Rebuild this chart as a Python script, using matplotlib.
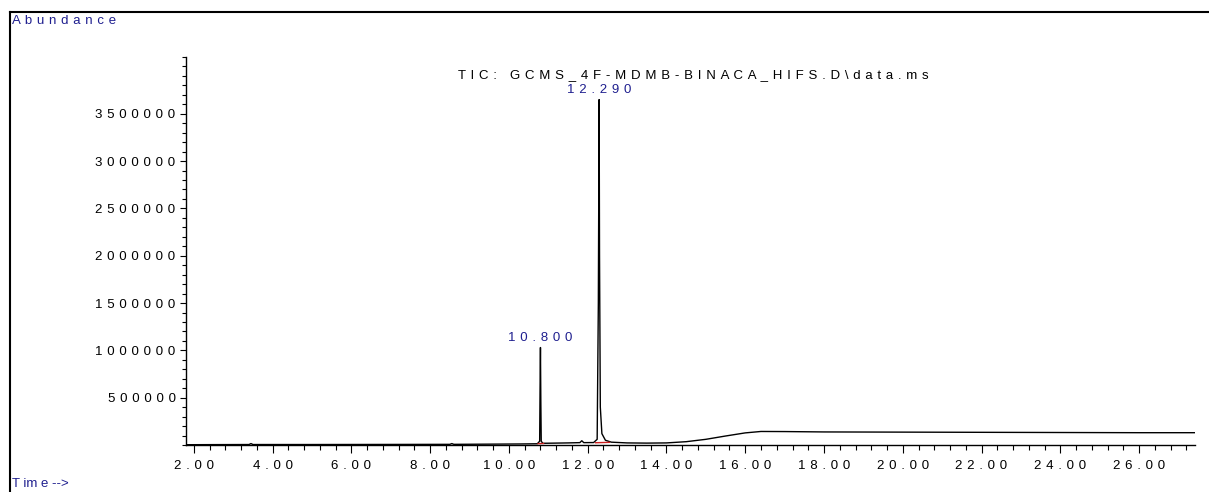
import matplotlib
matplotlib.use('Agg')
import matplotlib.pyplot as plt
from matplotlib.lines import Line2D
from matplotlib.ticker import FixedLocator, MultipleLocator, FuncFormatter

plt.rcParams['font.family'] = ['Liberation Sans', 'DejaVu Sans']

# TIC trace (minutes, abundance)
times = [1.80, 2.50, 3.40, 3.45, 3.50, 5.00, 7.00, 8.50, 8.55, 8.60, 9.50, 10.30,
         10.72, 10.78, 10.79, 10.80, 10.81, 10.82, 10.86, 11.50, 11.80, 11.85, 11.90,
         12.15, 12.24, 12.27, 12.29, 12.30, 12.32, 12.36, 12.45, 12.60, 13.00, 13.50,
         14.00, 14.50, 15.00, 15.50, 16.00, 16.40, 17.00, 18.00, 20.00, 22.00, 24.00,
         26.00, 27.42]
abundance = [3000, 4000, 5000, 15000, 5000, 5000, 6000, 7000, 15000, 7000, 9000, 11000,
             13000, 40000, 600000, 1030000, 450000, 40000, 18000, 22000, 25000, 45000, 25000,
             26000, 60000, 1500000, 3650000, 2000000, 400000, 120000, 50000, 30000, 22000, 20000,
             22000, 35000, 60000, 95000, 128000, 143000, 142000, 138000, 136000, 134000, 132000,
             130000, 130000]

# integration baselines (red)
base1_t = [10.74, 10.88]
base1_y = [14000, 16000]
base2_t = [12.20, 12.55]
base2_y = [24000, 28000]

peak_times = [10.800, 12.290]
peak_heights = [1030000, 3650000]

x_major = [2, 4, 6, 8, 10, 12, 14, 16, 18, 20, 22, 24, 26]
y_major = [500000, 1000000, 1500000, 2000000, 2500000, 3000000, 3500000]

title = r'TIC: GCMS_4F-MDMB-BINACA_HIFS.D\data.ms'
navy = '#1f1f8f'
fs = 9.5


def spaced(s):
    return ' \u200a'.join(s)


fig = plt.figure(figsize=(12.09, 4.92), dpi=100)
ax = fig.add_axes([186 / 1209, 1 - 445 / 492, (1195 - 186) / 1209, (445 - 57) / 492])

ax.plot(times, abundance, color='black', lw=1.0)
ax.plot(base1_t, base1_y, color='#cc2020', lw=1.0)
ax.plot(base2_t, base2_y, color='#cc2020', lw=1.0)

for t, h in zip(peak_times, peak_heights):
    ax.annotate(spaced(f'{t:.3f}'), (t, h), xytext=(0, 2.5), textcoords='offset points',
                ha='center', va='bottom', color=navy, fontsize=fs)

ax.set_xlim(1.80, 27.42)
ax.set_ylim(0, 4100000)

ax.spines['top'].set_visible(False)
ax.spines['right'].set_visible(False)
ax.spines['left'].set_linewidth(1.0)
ax.spines['bottom'].set_linewidth(1.0)

ax.xaxis.set_major_locator(FixedLocator(x_major))
ax.xaxis.set_minor_locator(MultipleLocator(0.4))
ax.xaxis.set_major_formatter(FuncFormatter(lambda v, p: spaced(f'{v:.2f}')))
ax.yaxis.set_major_locator(FixedLocator(y_major))
ax.yaxis.set_minor_locator(MultipleLocator(100000))
ax.yaxis.set_major_formatter(FuncFormatter(lambda v, p: spaced(f'{v:.0f}')))

ax.tick_params(axis='x', which='major', direction='out', length=6, width=0.8, pad=4.5, labelsize=fs)
ax.tick_params(axis='x', which='minor', direction='out', length=3.5, width=0.8)
ax.tick_params(axis='y', which='major', direction='out', length=4.5, width=0.8, pad=3, labelsize=fs)
ax.tick_params(axis='y', which='minor', direction='out', length=3, width=0.8)

fig.text(693 / 1209, 1 - 75 / 492, spaced(title), ha='center', va='center', fontsize=fs, color='black')

# outer frame
fig.add_artist(Line2D([10 / 1209, 1], [1 - 12 / 492, 1 - 12 / 492], color='black', lw=1.5))
fig.add_artist(Line2D([10 / 1209, 10 / 1209], [0, 1 - 12 / 492], color='black', lw=1.5))

fig.text(12 / 1209, 1 - 21 / 492, spaced('Abundance'), ha='left', va='center', fontsize=fs, color=navy)
fig.text(12 / 1209, 1 - 484 / 492, 'T im e -->', ha='left', va='center', fontsize=fs, color=navy)

fig.savefig('out.png', dpi=100)
